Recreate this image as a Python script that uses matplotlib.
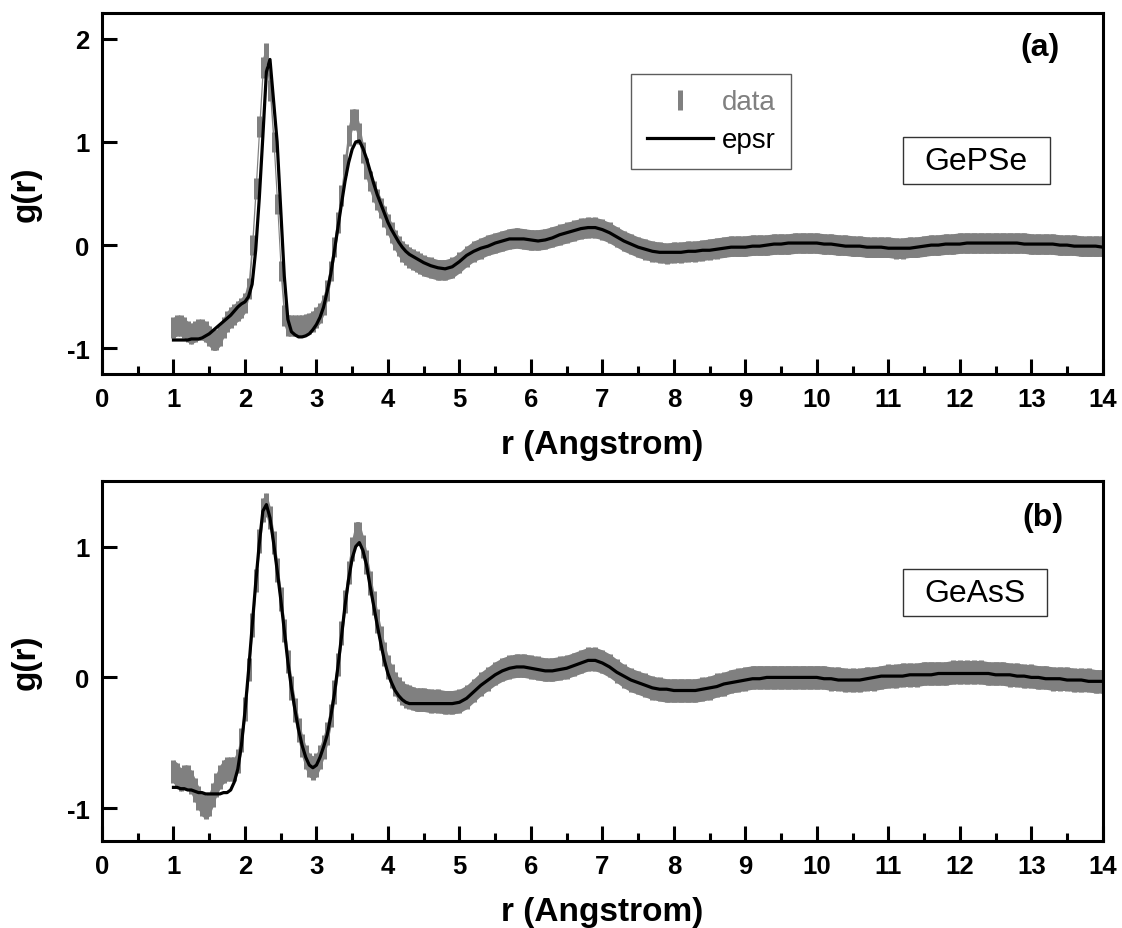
import numpy as np
import matplotlib
matplotlib.use("Agg")
import matplotlib.pyplot as plt
from matplotlib.lines import Line2D
from matplotlib.patches import Rectangle

plt.rcParams['font.family'] = ['Liberation Sans', 'DejaVu Sans']

# r grid (Angstrom): 0.05 steps through the first two shells, 0.1 beyond
r = np.concatenate([np.round(np.arange(1.0, 4.501, 0.05), 2),
                    np.round(np.arange(4.6, 14.001, 0.1), 1)])

# ---------------- (a) GePSe ----------------
data_a = [
    -0.80, -0.78, -0.78, -0.80, -0.84, -0.86, -0.84, -0.82, -0.82, -0.84,   # 1.00-1.45
    -0.88, -0.92, -0.92, -0.88, -0.80, -0.74, -0.70, -0.67, -0.64, -0.61,   # 1.50-1.95
    -0.56, -0.42, 0.00, 0.55, 1.15, 1.72, 1.86, 1.50, 1.00, 0.40,           # 2.00-2.45
    -0.25, -0.68, -0.78, -0.78, -0.78, -0.78, -0.78, -0.77, -0.76, -0.74,   # 2.50-2.95
    -0.70, -0.66, -0.58, -0.44, -0.25, -0.02, 0.22, 0.48, 0.78, 1.06,       # 3.00-3.45
    1.22, 1.22, 1.08, 0.90, 0.74, 0.62, 0.52, 0.44, 0.36, 0.28,             # 3.50-3.95
    0.20, 0.12, 0.05, -0.01, -0.06, -0.09, -0.12, -0.14, -0.16, -0.18,      # 4.00-4.45
    -0.20,                                                                  # 4.50
    -0.22, -0.24, -0.24, -0.22, -0.17, -0.11, -0.06, -0.03, 0.00, 0.02,     # 4.6-5.5
    0.04, 0.06, 0.07, 0.06, 0.05, 0.05, 0.06, 0.08, 0.10, 0.12,             # 5.6-6.5
    0.14, 0.16, 0.17, 0.17, 0.15, 0.12, 0.08, 0.04, 0.01, -0.02,            # 6.6-7.5
    -0.04, -0.06, -0.07, -0.08, -0.07, -0.07, -0.06, -0.06, -0.05, -0.04,   # 7.6-8.5
    -0.03, -0.02, -0.01, -0.01, -0.01, 0.00, 0.00, 0.00, 0.01, 0.01,        # 8.6-9.5
    0.01, 0.02, 0.02, 0.02, 0.02, 0.01, 0.01, 0.00, 0.00, -0.01,            # 9.6-10.5
    -0.01, -0.02, -0.02, -0.02, -0.02, -0.03, -0.03, -0.02, -0.02, -0.01,   # 10.6-11.5
    0.00, 0.00, 0.01, 0.01, 0.02, 0.02, 0.02, 0.02, 0.02, 0.02,             # 11.6-12.5
    0.02, 0.02, 0.02, 0.02, 0.01, 0.01, 0.01, 0.01, 0.00, 0.00,             # 12.6-13.5
    0.00, -0.01, -0.01, -0.01, -0.01,                                       # 13.6-14.0
]
epsr_a = [
    -0.92, -0.92, -0.92, -0.92, -0.92, -0.91, -0.91, -0.91, -0.90, -0.88,   # 1.00-1.45
    -0.86, -0.83, -0.80, -0.77, -0.74, -0.71, -0.68, -0.64, -0.60, -0.57,   # 1.50-1.95
    -0.55, -0.50, -0.38, -0.05, 0.45, 1.05, 1.68, 1.80, 1.40, 1.00,         # 2.00-2.45
    0.35, -0.30, -0.72, -0.84, -0.87, -0.89, -0.89, -0.88, -0.86, -0.82,    # 2.50-2.95
    -0.77, -0.70, -0.60, -0.45, -0.28, -0.06, 0.17, 0.40, 0.62, 0.80,       # 3.00-3.45
    0.93, 1.00, 1.01, 0.94, 0.84, 0.72, 0.60, 0.49, 0.40, 0.31,             # 3.50-3.95
    0.22, 0.15, 0.09, 0.03, -0.02, -0.06, -0.09, -0.11, -0.13, -0.15,       # 4.00-4.45
    -0.17,                                                                  # 4.50
    -0.20, -0.22, -0.23, -0.21, -0.16, -0.10, -0.06, -0.03, -0.01, 0.02,    # 4.6-5.5
    0.04, 0.06, 0.06, 0.06, 0.05, 0.04, 0.05, 0.07, 0.10, 0.12,             # 5.6-6.5
    0.14, 0.16, 0.17, 0.17, 0.15, 0.12, 0.08, 0.04, 0.01, -0.02,            # 6.6-7.5
    -0.04, -0.06, -0.07, -0.07, -0.07, -0.07, -0.06, -0.06, -0.05, -0.05,   # 7.6-8.5
    -0.04, -0.03, -0.02, -0.02, -0.02, -0.01, -0.01, 0.00, 0.01, 0.01,      # 8.6-9.5
    0.02, 0.02, 0.02, 0.02, 0.02, 0.01, 0.01, 0.00, -0.01, -0.01,           # 9.6-10.5
    -0.01, -0.02, -0.02, -0.02, -0.03, -0.03, -0.03, -0.03, -0.02, -0.01,   # 10.6-11.5
    0.00, 0.00, 0.01, 0.01, 0.01, 0.02, 0.02, 0.02, 0.02, 0.02,             # 11.6-12.5
    0.02, 0.02, 0.02, 0.01, 0.01, 0.01, 0.01, 0.01, 0.00, 0.00,             # 12.6-13.5
    -0.01, -0.01, -0.01, -0.01, -0.02,                                      # 13.6-14.0
]
err_a = 0.10

# ---------------- (b) GeAsS ----------------
data_b = [
    -0.72, -0.74, -0.78, -0.76, -0.76, -0.80, -0.86, -0.92, -0.97, -0.99,   # 1.00-1.45
    -0.97, -0.90, -0.82, -0.76, -0.72, -0.70, -0.70, -0.70, -0.64, -0.48,   # 1.50-1.95
    -0.24, 0.06, 0.40, 0.74, 1.04, 1.28, 1.32, 1.22, 1.03, 0.82,            # 2.00-2.45
    0.60, 0.36, 0.12, -0.08, -0.25, -0.40, -0.52, -0.61, -0.67, -0.69,      # 2.50-2.95
    -0.67, -0.61, -0.53, -0.43, -0.29, -0.11, 0.10, 0.34, 0.58, 0.80,       # 3.00-3.45
    0.98, 1.10, 1.10, 1.00, 0.88, 0.72, 0.57, 0.43, 0.30, 0.18,             # 3.50-3.95
    0.08, 0.01, -0.05, -0.09, -0.12, -0.14, -0.15, -0.16, -0.17, -0.17,     # 4.00-4.45
    -0.17,                                                                  # 4.50
    -0.18, -0.18, -0.19, -0.19, -0.18, -0.15, -0.10, -0.05, -0.01, 0.03,    # 4.6-5.5
    0.06, 0.08, 0.09, 0.09, 0.08, 0.07, 0.06, 0.06, 0.07, 0.08,             # 5.6-6.5
    0.10, 0.12, 0.14, 0.14, 0.12, 0.09, 0.05, 0.01, -0.02, -0.04,           # 6.6-7.5
    -0.06, -0.08, -0.09, -0.10, -0.10, -0.10, -0.10, -0.10, -0.09, -0.08,   # 7.6-8.5
    -0.06, -0.05, -0.03, -0.02, -0.01, 0.00, 0.00, 0.00, 0.00, 0.00,        # 8.6-9.5
    0.00, 0.00, 0.00, 0.00, 0.00, 0.00, -0.01, -0.01, -0.02, -0.02,         # 9.6-10.5
    -0.02, -0.01, -0.01, 0.00, 0.01, 0.01, 0.02, 0.02, 0.02, 0.03,          # 10.6-11.5
    0.03, 0.03, 0.03, 0.04, 0.04, 0.04, 0.04, 0.04, 0.03, 0.03,             # 11.6-12.5
    0.03, 0.02, 0.02, 0.01, 0.01, 0.00, 0.00, -0.01, -0.01, -0.01,          # 12.6-13.5
    -0.02, -0.02, -0.02, -0.03, -0.03,                                      # 13.6-14.0
]
epsr_b = [
    -0.84, -0.84, -0.85, -0.85, -0.86, -0.86, -0.87, -0.88, -0.88, -0.89,   # 1.00-1.45
    -0.89, -0.89, -0.89, -0.89, -0.88, -0.88, -0.86, -0.80, -0.70, -0.52,   # 1.50-1.95
    -0.26, 0.05, 0.38, 0.72, 1.02, 1.27, 1.32, 1.22, 1.03, 0.82,            # 2.00-2.45
    0.60, 0.36, 0.12, -0.08, -0.25, -0.40, -0.52, -0.61, -0.67, -0.69,      # 2.50-2.95
    -0.67, -0.61, -0.53, -0.44, -0.30, -0.13, 0.08, 0.31, 0.55, 0.75,       # 3.00-3.45
    0.91, 1.00, 1.03, 0.97, 0.86, 0.70, 0.55, 0.40, 0.26, 0.13,             # 3.50-3.95
    0.03, -0.04, -0.10, -0.14, -0.17, -0.19, -0.20, -0.20, -0.20, -0.20,    # 4.00-4.45
    -0.20,                                                                  # 4.50
    -0.20, -0.20, -0.20, -0.20, -0.19, -0.16, -0.11, -0.06, -0.02, 0.02,    # 4.6-5.5
    0.05, 0.07, 0.08, 0.08, 0.07, 0.06, 0.05, 0.05, 0.06, 0.07,             # 5.6-6.5
    0.09, 0.11, 0.13, 0.13, 0.11, 0.08, 0.04, 0.01, -0.02, -0.04,           # 6.6-7.5
    -0.06, -0.08, -0.09, -0.09, -0.10, -0.10, -0.10, -0.10, -0.09, -0.08,   # 7.6-8.5
    -0.07, -0.05, -0.04, -0.03, -0.02, -0.01, -0.01, 0.00, 0.00, 0.00,      # 8.6-9.5
    0.00, 0.00, 0.00, 0.00, 0.00, -0.01, -0.01, -0.02, -0.02, -0.02,        # 9.6-10.5
    -0.02, -0.01, 0.00, 0.01, 0.01, 0.01, 0.01, 0.02, 0.02, 0.02,           # 10.6-11.5
    0.02, 0.03, 0.03, 0.03, 0.03, 0.03, 0.03, 0.03, 0.03, 0.02,             # 11.6-12.5
    0.02, 0.02, 0.01, 0.01, 0.00, 0.00, -0.01, -0.01, -0.01, -0.02,         # 12.6-13.5
    -0.02, -0.02, -0.03, -0.03, -0.03,                                      # 13.6-14.0
]
err_b = 0.09

x_ticks = list(range(0, 15))
x_ticklabels = [str(v) for v in x_ticks]
y_ticks_a = [-1, 0, 1, 2]
y_ticks_b = [-1, 0, 1]
series_labels = ["data", "epsr"]
sample_names = ["GePSe", "GeAsS"]
panel_tags = ["(a)", "(b)"]

GRAY = "#808080"

fig = plt.figure(figsize=(11.22, 9.29), dpi=100)
ax_a = fig.add_axes([0.0909, 0.5963, 0.892, 0.3886])
ax_b = fig.add_axes([0.0909, 0.0936, 0.892, 0.3875])

panels = [
    (ax_a, np.array(data_a), np.array(epsr_a), err_a, (-1.25, 2.25), y_ticks_a),
    (ax_b, np.array(data_b), np.array(epsr_b), err_b, (-1.25, 1.5), y_ticks_b),
]

for ax, dat, fit, err, ylim, yt in panels:
    ax.fill_between(r, dat - err, dat + err, color=GRAY, lw=0, zorder=1)
    ax.errorbar(r, dat, yerr=err, fmt="none", ecolor=GRAY, elinewidth=3.6,
                capsize=0, zorder=2)
    ax.plot(r, fit, color="black", lw=2.3, zorder=3)

    ax.set_xlim(0, 14)
    ax.set_ylim(*ylim)
    ax.set_xticks(x_ticks)
    ax.set_xticklabels(x_ticklabels, fontsize=18.5, fontweight="bold")
    ax.set_xticks(np.arange(0.5, 14, 1.0), minor=True)
    ax.set_yticks(yt)
    ax.set_yticklabels([str(v) for v in yt], fontsize=18.5, fontweight="bold")
    ax.set_yticks(np.arange(ylim[0] + 0.25, ylim[1], 1.0), minor=True)
    ax.tick_params(which="both", direction="in", width=2.2, top=False, right=False)
    ax.tick_params(which="major", length=11, pad=9)
    ax.tick_params(which="minor", length=5.5)
    for s in ax.spines.values():
        s.set_linewidth(2.2)
    ax.set_xlabel("r (Angstrom)", fontsize=24, fontweight="bold", labelpad=13)
    ax.set_ylabel("g(r)", fontsize=24, fontweight="bold", labelpad=18)

# legend in panel (a)
handles = [
    Line2D([], [], color=GRAY, marker="|", markersize=14.5, markeredgewidth=3.6,
           linestyle="None"),
    Line2D([], [], color="black", lw=2.3),
]
leg = ax_a.legend(handles, series_labels, loc="upper left",
                  bbox_to_anchor=(0.529, 0.831), fontsize=20, frameon=True,
                  fancybox=False, edgecolor="#333333", handlelength=2.4,
                  handletextpad=0.3, borderpad=0.55, labelspacing=0.43,
                  borderaxespad=0)
leg.get_frame().set_linewidth(1.0)
leg.get_texts()[0].set_color(GRAY)

# sample boxes and panel tags
boxes = [
    (ax_a, (0.800, 0.526, 0.147, 0.131), (0.8736, 0.591)),
    (ax_b, (0.800, 0.625, 0.144, 0.131), (0.872, 0.690)),
]
for (ax, (bx, by, bw, bh), (tx, ty)), name in zip(boxes, sample_names):
    ax.add_patch(Rectangle((bx, by), bw, bh, transform=ax.transAxes,
                           fill=False, edgecolor="#333333", lw=1.0, zorder=5))
    ax.text(tx, ty, name, transform=ax.transAxes, fontsize=23,
            ha="center", va="center", zorder=6)

ax_a.text(0.937, 0.906, panel_tags[0], transform=ax_a.transAxes, fontsize=23,
          fontweight="bold", ha="center", va="center")
ax_b.text(0.940, 0.900, panel_tags[1], transform=ax_b.transAxes, fontsize=23,
          fontweight="bold", ha="center", va="center")

fig.savefig("out.png", dpi=100)
